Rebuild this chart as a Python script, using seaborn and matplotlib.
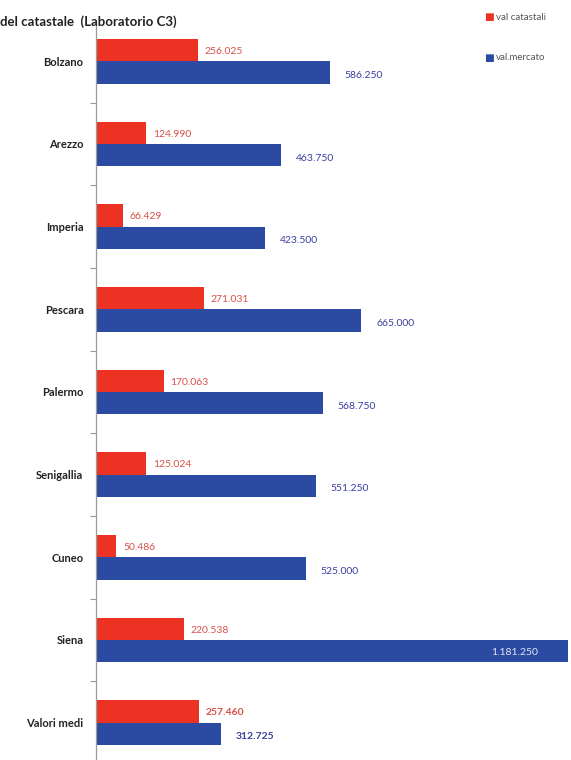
import pandas as pd
import matplotlib.pyplot as plt
import seaborn as sns

# values
cities = ["Bolzano", "Arezzo", "Imperia", "Pescara", "Palermo",
          "Senigallia", "Cuneo", "Siena", "Valori medi"]
val_catastale = [256025, 124990, 66429, 271031, 170063, 125024, 50486, 220538, 257460]
val_mercato = [586250, 463750, 423500, 665000, 568750, 551250, 525000, 1181250, 312725]

RED = "#EC3323"
BLUE = "#2B4BA3"
RED_TXT = "#D8504A"
BLUE_TXT = "#3B3F9E"


def fmt(v):
    # Italian thousands separator
    return f"{v:,}".replace(",", ".")


df = pd.DataFrame({
    "city": cities * 2,
    "value": val_catastale + val_mercato,
    "serie": ["val catastali"] * len(cities) + ["val.mercato"] * len(cities),
})

sns.set_theme(style="white")
plt.rcParams["font.family"] = ["Lato", "DejaVu Sans"]

fig = plt.figure(figsize=(5.71, 7.6), dpi=100)
ax = fig.add_axes([96 / 571, -4 / 760, 1 - 96 / 571, 744 / 760])

sns.barplot(data=df, y="city", x="value", hue="serie", orient="h",
            palette=[RED, BLUE], width=0.54, gap=0, saturation=1,
            linewidth=0, legend=False, ax=ax)

ax.set_xlim(0, 1190000)
ax.set_ylim(len(cities) - 0.5, -0.5)
ax.set_xlabel("")
ax.set_ylabel("")
ax.set_xticks([])
for side in ["top", "right", "bottom"]:
    ax.spines[side].set_visible(False)
ax.spines["left"].set_color("#9a9a9a")
ax.spines["left"].set_linewidth(0.9)

ax.set_yticks(range(len(cities)))
ax.set_yticklabels(cities, fontsize=8, fontweight="bold", color="#222222")
ax.tick_params(axis="y", which="major", length=0, pad=9)
ax.set_yticks([i + 0.5 for i in range(len(cities) - 1)], minor=True)
ax.tick_params(axis="y", which="minor", length=4, color="#9a9a9a", width=0.8, left=True)

# value labels
for i, (c, m) in enumerate(zip(val_catastale, val_mercato)):
    bold = "bold" if cities[i] == "Valori medi" else "normal"
    ax.text(c + 17000, i - 0.12, fmt(c), color=RED_TXT, fontsize=7.5,
            fontweight=bold, va="center", ha="left")
    if m > 1000000:
        ax.text(m - 190000, i + 0.15, fmt(m), color="#E6E6F5", fontsize=7.5,
                va="center", ha="left")
    else:
        ax.text(m + 37000, i + 0.17, fmt(m), color=BLUE_TXT, fontsize=7.5,
                fontweight=bold, va="center", ha="left")

# cropped title and legend, as in the reference
fig.text(0, 1 - 22 / 760, "del catastale  (Laboratorio C3)", fontsize=9.5,
         fontweight="bold", color="#222222", va="center", ha="left")
for y, col, lab in [(17, RED, "val catastali"), (58, BLUE, "val.mercato")]:
    fig.text(484 / 571, 1 - y / 760, "■", color=col, fontsize=7.5,
             va="center", ha="left", family="DejaVu Sans")
    fig.text(496 / 571, 1 - y / 760, lab, color="#555555", fontsize=7,
             va="center", ha="left")

fig.savefig("out.png", dpi=100)
